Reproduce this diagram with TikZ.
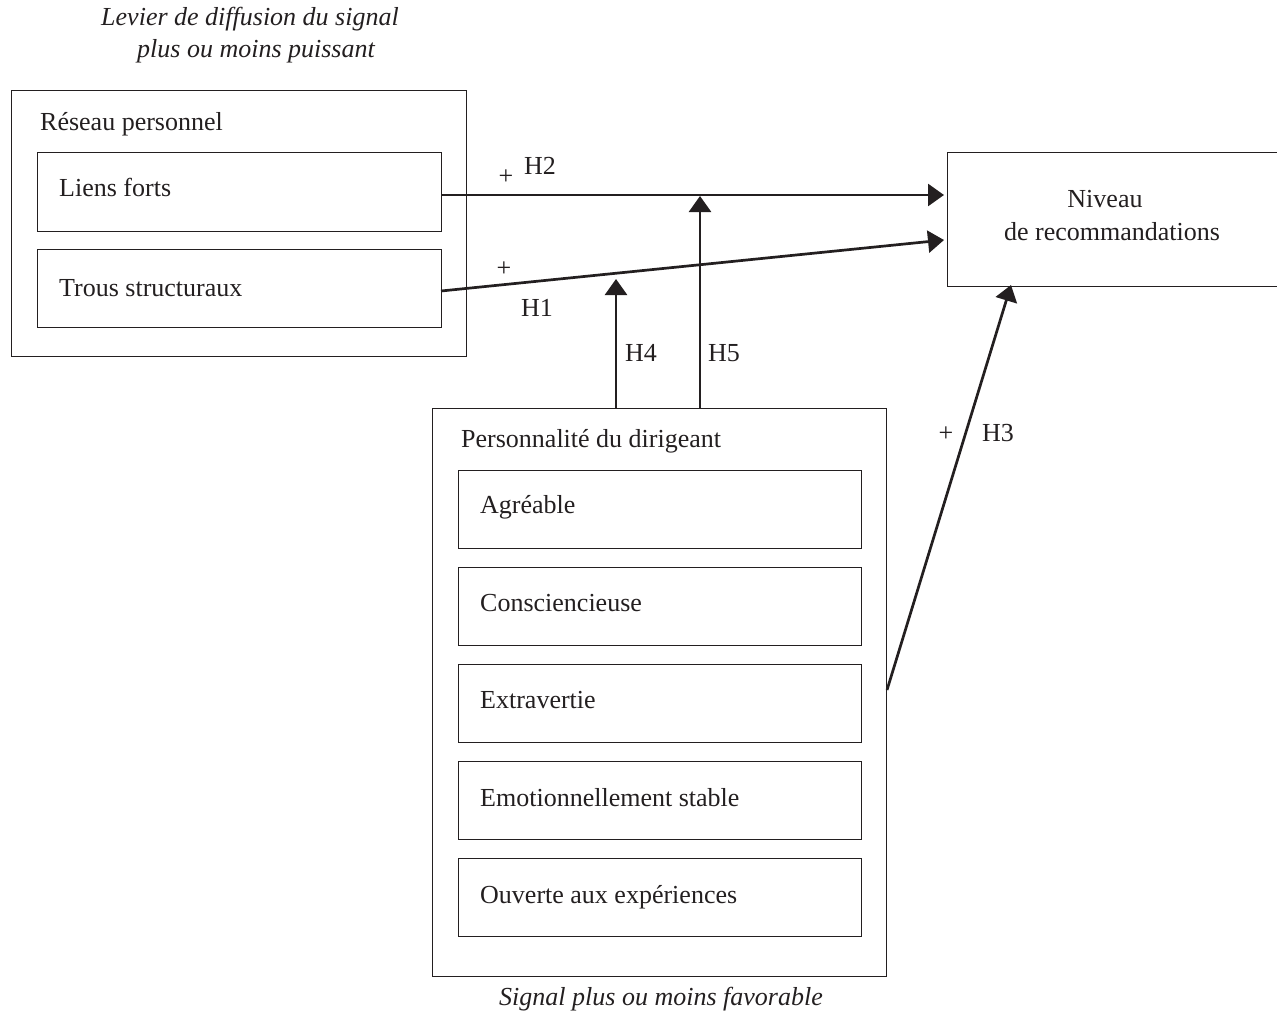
\documentclass[tikz,border=0pt]{standalone}
\usepackage{fontspec}
\setmainfont{Liberation Serif}
\usetikzlibrary{arrows.meta}
\definecolor{ink}{HTML}{231F20}
\tikzset{
  box/.style={draw=ink, line width=1.3pt, rectangle, inner sep=0pt, anchor=north west},
  txt/.style={text=ink, inner sep=0pt, font=\fontsize{26}{31}\selectfont},
  itxt/.style={txt, font=\fontsize{26}{31}\selectfont\itshape},
  arr/.style={draw=ink, line width=2.7pt, -{Triangle[length=16pt,width=22pt]}},
}
\begin{document}
\begin{tikzpicture}[x=1pt,y=-1pt]
\useasboundingbox (0,0) rectangle (1277,1014);
% top caption
\node[itxt, anchor=base] (cap1) at (250,26) {Levier de diffusion du signal};
\node[itxt, anchor=base] (cap2) at (256,58) {plus ou moins puissant};
% reseau personnel
\node[box, minimum width=455pt, minimum height=266pt] (res) at (11,90) {};
\node[txt, anchor=base west] (rest) at (40,131) {Réseau personnel};
\node[box, minimum width=404pt, minimum height=79pt] (lf) at (37,152) {};
\node[txt, anchor=base west] (lft) at (59,196) {Liens forts};
\node[box, minimum width=404pt, minimum height=78pt] (tr) at (37,249) {};
\node[txt, anchor=base west] (trt) at (59,296) {Trous structuraux};
% niveau
\node[box, minimum width=340pt, minimum height=134pt] (niv) at (947,152) {};
\node[txt, anchor=base] (nivt1) at (1105,207) {Niveau};
\node[txt, anchor=base] (nivt2) at (1112,240) {de recommandations};
% personnalite
\node[box, minimum width=454pt, minimum height=568pt] (pers) at (432,408) {};
\node[txt, anchor=base west] (perst) at (461,447) {Personnalité du dirigeant};
\node[box, minimum width=403pt, minimum height=78pt] (b1) at (458,470) {};
\node[txt, anchor=base west] (b1t) at (480,513) {Agréable};
\node[box, minimum width=403pt, minimum height=78pt] (b2) at (458,567) {};
\node[txt, anchor=base west] (b2t) at (480,611) {Consciencieuse};
\node[box, minimum width=403pt, minimum height=78pt] (b3) at (458,664) {};
\node[txt, anchor=base west] (b3t) at (480,708) {Extravertie};
\node[box, minimum width=403pt, minimum height=78pt] (b4) at (458,761) {};
\node[txt, anchor=base west] (b4t) at (480,806) {Emotionnellement stable};
\node[box, minimum width=403pt, minimum height=78pt] (b5) at (458,858) {};
\node[txt, anchor=base west] (b5t) at (480,903) {Ouverte aux expériences};
\node[itxt, anchor=base] (cap3) at (661,1005) {Signal plus ou moins favorable};
% connector endpoints
\coordinate (h2s) at (441,195);
\coordinate (h2e) at (944,195);
\coordinate (h1s) at (441,291);
\coordinate (h1e) at (944,240);
\coordinate (h4s) at (616,408);
\coordinate (h4e) at (616,279);
\coordinate (h5s) at (700,408);
\coordinate (h5e) at (700,196);
\coordinate (h3s) at (887,690);
\coordinate (h3e) at (1011,285);
% arrows
\draw[arr] (h2s) -- (h2e);
\draw[arr] (h1s) -- (h1e);
\draw[arr] (h4s) -- (h4e);
\draw[arr] (h5s) -- (h5e);
\draw[arr] (h3s) -- (h3e);
% labels
\node[txt, anchor=base] (p2) at (506,184) {+};
\node[txt, anchor=base west] (l2) at (524,175) {H2};
\node[txt, anchor=base] (p1) at (504,276) {+};
\node[txt, anchor=base west] (l1) at (521,316) {H1};
\node[txt, anchor=base west] (l4) at (625,361) {H4};
\node[txt, anchor=base west] (l5) at (708,361) {H5};
\node[txt, anchor=base] (p3) at (946,441) {+};
\node[txt, anchor=base west] (l3) at (982,441) {H3};
\end{tikzpicture}
\end{document}
